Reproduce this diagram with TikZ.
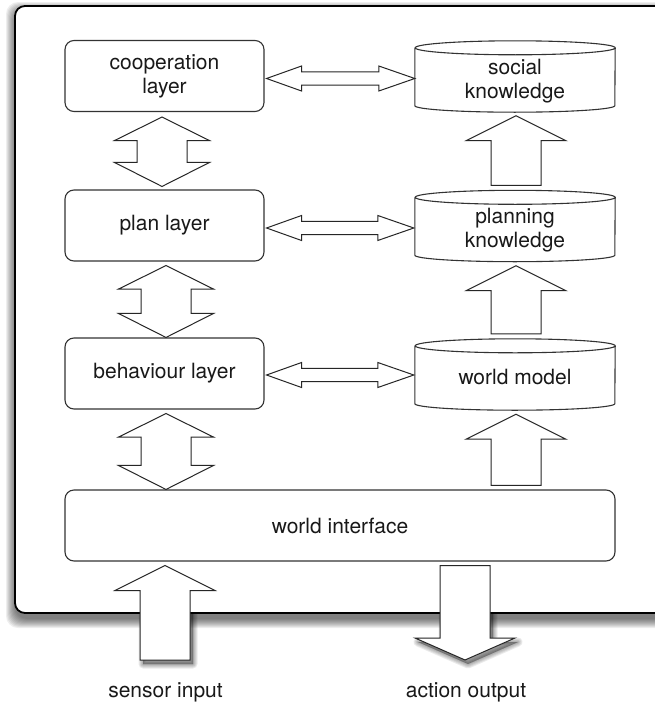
\documentclass[tikz,border=0pt]{standalone}
\usepackage{fontspec}
\setmainfont{TeX Gyre Heros}
\usetikzlibrary{calc}
\pgfdeclarelayer{shadowlayer}
\pgfdeclarelayer{framelayer}
\pgfsetlayers{shadowlayer,framelayer,main}
\tikzset{
  lbl/.style={font=\fontsize{21}{24}\selectfont, text=black!90, align=center},
  layerbox/.style={lbl, draw=black!80, line width=1.1pt, rounded corners=9pt, fill=white,
    minimum width=199pt, minimum height=71pt, inner sep=0pt},
  cylbox/.style={minimum width=200pt, minimum height=71pt, inner sep=0pt},
  cylline/.style={draw=black!80, line width=1.1pt, fill=white},
  fat/.style={draw=black!85, line width=1pt, fill=white, line join=miter},
  arrowshadow/.style={fill=black, draw=black, opacity=0.08, line join=round,
    transform canvas={shift={(3pt,-4pt)}}},
}
% vertical double fat arrow: #1 top tip, #2 bottom tip
\newcommand{\VDbl}[2]{%
  \draw[fat] let \p1=(#1), \p2=(#2) in
  (\x1,\y1) -- (\x1+47.5pt,\y1-23.5pt) -- (\x1+25pt,\y1-23.5pt) -- (\x1+25pt,\y2+24pt)
  -- (\x1+47.5pt,\y2+24pt) -- (\x1,\y2) -- (\x1-47.5pt,\y2+24pt) -- (\x1-25pt,\y2+24pt)
  -- (\x1-25pt,\y1-23.5pt) -- (\x1-47.5pt,\y1-23.5pt) -- cycle;}
% horizontal double fat arrow: #1 left tip, #2 right tip
\newcommand{\HDbl}[2]{%
  \draw[fat] let \p1=(#1), \p2=(#2) in
  (\x1,\y1) -- (\x1+35pt,\y1+12.5pt) -- (\x1+35pt,\y1+6.7pt) -- (\x2-36pt,\y1+6.7pt)
  -- (\x2-36pt,\y1+12.5pt) -- (\x2,\y1) -- (\x2-36pt,\y1-12.5pt) -- (\x2-36pt,\y1-6.7pt)
  -- (\x1+35pt,\y1-6.7pt) -- (\x1+35pt,\y1-12.5pt) -- cycle;}
% up fat arrow: #2 tail (bottom), #3 tip (top)
\newcommand{\UpArrow}[3][fat]{%
  \draw[#1] let \p1=(#2), \p2=(#3) in
  (\x2,\y2) -- (\x2+50pt,\y2-25pt) -- (\x2+25pt,\y2-25pt) -- (\x2+25pt,\y1)
  -- (\x2-25pt,\y1) -- (\x2-25pt,\y2-25pt) -- (\x2-50pt,\y2-25pt) -- cycle;}
% down fat arrow: #2 tail (top), #3 tip (bottom)
\newcommand{\DownArrow}[3][fat]{%
  \draw[#1] let \p1=(#2), \p2=(#3) in
  (\x1,\y2) -- (\x1+50pt,\y2+22pt) -- (\x1+25pt,\y2+22pt) -- (\x1+25pt,\y1)
  -- (\x1-25pt,\y1) -- (\x1-25pt,\y2+22pt) -- (\x1-50pt,\y2+22pt) -- cycle;}
% cylinder outline around a named node
\newcommand{\Cyl}[1]{%
  \draw[cylline] ([yshift=-7pt]#1.north west) -- ([yshift=6.5pt]#1.south west)
  arc[start angle=180,end angle=360,x radius=100pt,y radius=6.5pt]
  -- ([yshift=-7pt]#1.north east)
  arc[start angle=0,end angle=180,x radius=100pt,y radius=7pt]
  arc[start angle=180,end angle=360,x radius=100pt,y radius=7pt];}
\begin{document}
\begin{tikzpicture}[x=1pt,y=1pt]
\useasboundingbox (0,0) rectangle (654,-704);

% layer boxes
\node[layerbox] (coop) at (164.5,-76) {cooperation\\layer};
\node[layerbox] (plan) at (164.5,-225.5) {plan layer};
\node[layerbox] (beh)  at (164.5,-373.5) {behaviour layer};
\node[layerbox, minimum width=550pt] (wi) at (340,-525.5) {world interface};

% knowledge cylinders
\node[cylbox] (social)   at (515,-76.5) {};
\node[cylbox] (planning) at (515,-226) {};
\node[cylbox] (wm)       at (515,-374.5) {};
\Cyl{social}\Cyl{planning}\Cyl{wm}
\node[lbl] (sociallbl)   at ([yshift=-5pt]social.center) {social\\knowledge};
\node[lbl] (planninglbl) at ([yshift=-4pt]planning.center) {planning\\knowledge};
\node[lbl] (wmlbl)       at ([yshift=-2pt]wm.center) {world model};

% horizontal double arrows
\coordinate (h1l) at ([xshift=2pt,yshift=-2.5pt]coop.east);
\coordinate (h1r) at (social.west |- h1l);
\coordinate (h2l) at ([xshift=2pt,yshift=-2.5pt]plan.east);
\coordinate (h2r) at ([xshift=-1pt]planning.west |- h2l);
\coordinate (h3l) at ([xshift=2pt,yshift=-1.5pt]beh.east);
\coordinate (h3r) at ([xshift=-1pt]wm.west |- h3l);
\HDbl{h1l}{h1r}
\HDbl{h2l}{h2r}
\HDbl{h3l}{h3r}

% vertical double arrows (left column)
\coordinate (v1t) at ([xshift=-2.5pt,yshift=-5pt]coop.south);
\coordinate (v1b) at ([xshift=-2.5pt,yshift=3pt]plan.north);
\coordinate (v2t) at ([xshift=1.5pt,yshift=-4pt]plan.south);
\coordinate (v2b) at ([xshift=1.5pt]beh.north);
\coordinate (v3t) at ([xshift=1.5pt,yshift=-4pt]beh.south);
\coordinate (v3b) at ([xshift=1.5pt]beh.south |- wi.north);
\VDbl{v1t}{v1b}
\VDbl{v2t}{v2b}
\VDbl{v3t}{v3b}

% up arrows (right column)
\coordinate (u1b) at ([xshift=1pt,yshift=5pt]planning.north);
\coordinate (u1t) at ([xshift=1pt,yshift=-3.5pt]social.south);
\coordinate (u2b) at ([xshift=1pt,yshift=5pt]wm.north);
\coordinate (u2t) at ([xshift=1pt,yshift=-4pt]planning.south);
\coordinate (u3b) at ([xshift=1pt,yshift=4pt]wm.south |- wi.north);
\coordinate (u3t) at ([xshift=1pt,yshift=-4pt]wm.south);
\UpArrow{u1b}{u1t}
\UpArrow{u2b}{u2t}
\UpArrow{u3b}{u3t}

% sensor input / action output
\coordinate (sensortip)  at ([xshift=-175pt,yshift=-4pt]wi.south);
\coordinate (sensorbase) at (165,-660);
\coordinate (actiontop)  at ([xshift=125pt,yshift=-4pt]wi.south);
\coordinate (actiontip)  at (465,-660);
\UpArrow{sensorbase}{sensortip}
\DownArrow{actiontop}{actiontip}
\node[lbl] (sensorlbl) at (165.5,-692.5) {sensor input};
\node[lbl] (actionlbl) at (466,-692.5) {action output};

% arrow shadows (outside the frame only)
\begin{pgfonlayer}{shadowlayer}
  \foreach \w in {1,3,5,7,9} {
    \UpArrow[arrowshadow, line width=\w pt]{sensorbase}{sensortip}
    \DownArrow[arrowshadow, line width=\w pt]{actiontop}{actiontip}
  }
\end{pgfonlayer}

% outer frame with soft shadow
\begin{pgfonlayer}{framelayer}
  \foreach \i in {0,...,9} {
    \fill[black, opacity=0.065, rounded corners=12pt] (15-\i,-11+\i) rectangle (720+\i,-619-\i);
  }
  \draw[black, line width=1.8pt, fill=white, rounded corners=10pt] (15,-6) rectangle (720,-613);
\end{pgfonlayer}
\end{tikzpicture}
\end{document}
